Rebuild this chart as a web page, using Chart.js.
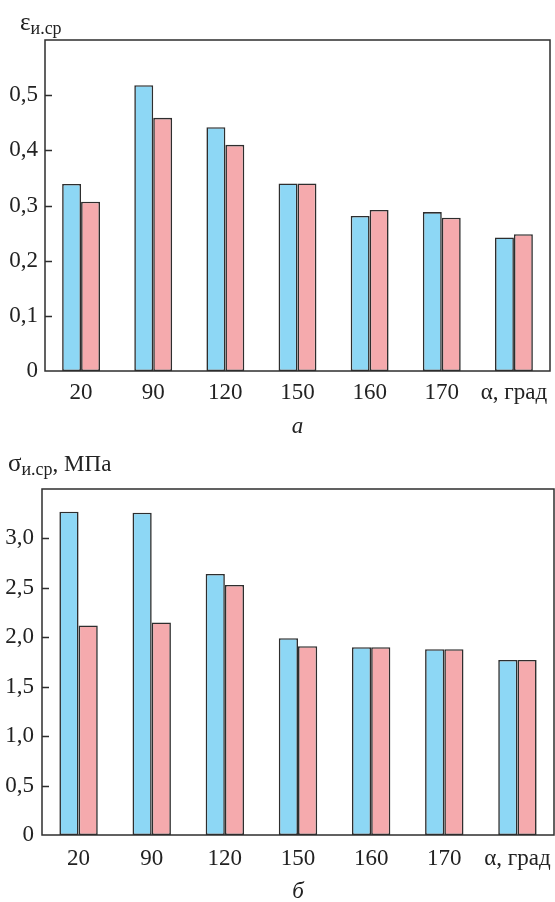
<!DOCTYPE html>
<html>
<head>
<meta charset="utf-8">
<script src="https://cdn.jsdelivr.net/npm/chart.js@4.4.1/dist/chart.umd.min.js"></script>
<style>
  body { margin: 0; background: #fff; font-family: "Liberation Serif", serif; color: #222; }
  #wrap { position: relative; width: 555px; height: 902px; overflow: hidden; }
  canvas { position: absolute; left: 0; }
  .t { position: absolute; line-height: 1; white-space: nowrap; }
  .t sub { font-size: 18px; vertical-align: -4px; line-height: 1; }
</style>
</head>
<body>
<div id="wrap">
  <canvas id="c1" width="555" height="420" style="top:0"></canvas>
  <canvas id="c2" width="555" height="440" style="top:440px"></canvas>
  <div class="t" style="left:20px;top:9px;font-size:25px">ε<sub>и.ср</sub></div>
  <div class="t" style="left:0;width:595px;top:414px;font-size:23px;text-align:center;font-style:italic">а</div>
  <div class="t" style="left:8px;top:450px;font-size:25px">σ<sub>и.ср</sub><span style="font-size:23px">, МПа</span></div>
  <div class="t" style="left:0;width:596px;top:879px;font-size:23px;text-align:center;font-style:italic">б</div>
</div>
<script>
const categories = ['20', '90', '120', '150', '160', '170', 'α, град'];

// верхний график (а)
const epsBlue = [0.339, 0.518, 0.442, 0.340, 0.281, 0.288, 0.242];
const epsPink = [0.307, 0.459, 0.410, 0.340, 0.292, 0.278, 0.248];

// нижний график (б)
const sigBlue = [3.27, 3.26, 2.64, 1.99, 1.90, 1.88, 1.77];
const sigPink = [2.12, 2.15, 2.53, 1.91, 1.90, 1.88, 1.77];

const blue = '#8dd7f5';
const pink = '#f5aaad';
const edge = '#2e2e2e';

const frame = {
  id: 'frame',
  afterDatasetsDraw(chart) {
    const ctx = chart.ctx, a = chart.chartArea, y = chart.scales.y;
    ctx.save();
    ctx.strokeStyle = edge;
    ctx.lineWidth = 1.5;
    ctx.strokeRect(a.left, a.top, a.right - a.left, a.bottom - a.top);
    ctx.beginPath();
    y.ticks.forEach(t => {
      if (t.value <= 0 || t.value >= y.max - 1e-9) return;
      const py = Math.round(y.getPixelForValue(t.value)) + 0.5;
      ctx.moveTo(a.left, py);
      ctx.lineTo(a.left + 7, py);
    });
    ctx.stroke();
    ctx.restore();
  }
};

function makeChart(id, s1, s2, yMax, step, pad, yWidth, yPad, xHeight, xPad) {
  return new Chart(document.getElementById(id), {
    type: 'bar',
    data: {
      labels: categories,
      datasets: [
        { data: s1, backgroundColor: blue, borderColor: edge, borderWidth: 1.6, borderSkipped: false },
        { data: s2, backgroundColor: pink, borderColor: edge, borderWidth: 1.6, borderSkipped: false }
      ]
    },
    options: {
      responsive: false,
      animation: false,
      layout: { padding: pad },
      plugins: { legend: { display: false }, tooltip: { enabled: false } },
      datasets: { bar: { categoryPercentage: 0.525, barPercentage: 1 } },
      scales: {
        x: {
          grid: { display: false, drawTicks: false },
          border: { display: false },
          ticks: { color: '#222', font: { family: 'Liberation Serif', size: 23 }, padding: xPad, maxRotation: 0, autoSkip: false },
          afterFit(s) {
            s.height = xHeight;
            s.paddingLeft = 0;
            s.paddingRight = 0;
          }
        },
        y: {
          min: 0,
          max: yMax,
          grid: { display: false, drawTicks: false },
          border: { display: false },
          ticks: {
            stepSize: step,
            padding: yPad,
            color: '#222',
            font: { family: 'Liberation Serif', size: 23 },
            callback(v) {
              if (Math.abs(v - yMax) < 1e-9) return '';
              if (Math.abs(v) < 1e-9) return '0';
              return v.toFixed(1).replace('.', ',');
            }
          },
          afterFit(s) {
            s.width = yWidth;
            s.paddingTop = 0;
            s.paddingBottom = 0;
          }
        }
      }
    },
    plugins: [frame]
  });
}

makeChart('c1', epsBlue, epsPink, 0.6, 0.1, { top: 40, right: 5, left: 0, bottom: 0 }, 45, 7, 49, 8);
makeChart('c2', sigBlue, sigPink, 3.5, 0.5, { top: 49, right: 1, left: 0, bottom: 0 }, 42, 8, 45, 10);
</script>
</body>
</html>
